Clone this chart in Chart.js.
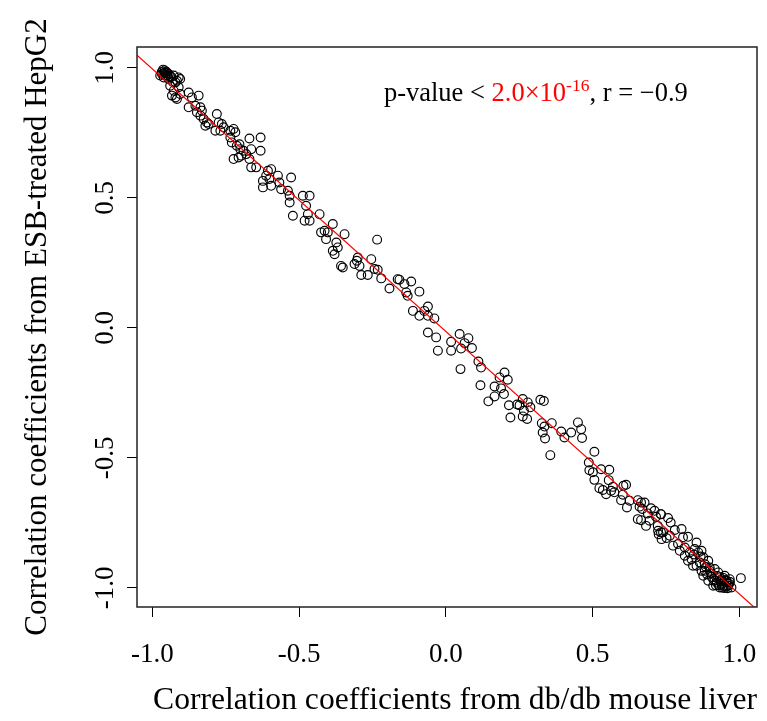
<!DOCTYPE html>
<html>
<head>
<meta charset="utf-8">
<title>Correlation coefficients scatter</title>
<script src="https://cdn.jsdelivr.net/npm/chart.js@4.4.1/dist/chart.umd.min.js"></script>
<style>
  html, body { margin: 0; padding: 0; background: #fff; }
  canvas { display: block; }
</style>
</head>
<body>
<canvas id="chart" width="767" height="721"></canvas>
<script>
'use strict';

const SERIF = "'Liberation Serif', 'Times New Roman', serif";

// [db/db mouse liver, ESB-treated HepG2] pairs
const upperCluster = [
  [-0.967, 0.976], [-0.956, 0.982], [-0.950, 0.970], [-0.961, 0.963], [-0.944, 0.976],
  [-0.952, 0.985], [-0.973, 0.970], [-0.958, 0.990], [-0.947, 0.962], [-0.962, 0.978],
  [-0.955, 0.972], [-0.940, 0.968], [-0.968, 0.984], [-0.927, 0.970], [-0.910, 0.963],
  [-0.916, 0.950], [-0.905, 0.957], [-0.921, 0.944], [-0.939, 0.931], [-0.910, 0.925],
  [-0.927, 0.912], [-0.933, 0.893], [-0.921, 0.886], [-0.916, 0.880], [-0.905, 0.899],
  [-0.876, 0.905], [-0.865, 0.886], [-0.842, 0.893], [-0.876, 0.848], [-0.853, 0.854],
  [-0.836, 0.848], [-0.831, 0.835], [-0.848, 0.829], [-0.836, 0.816], [-0.825, 0.803],
  [-0.814, 0.790], [-0.819, 0.777], [-0.808, 0.784], [-0.780, 0.822], [-0.774, 0.790],
  [-0.763, 0.784], [-0.757, 0.771], [-0.785, 0.758], [-0.768, 0.758], [-0.734, 0.758],
  [-0.723, 0.765], [-0.717, 0.752], [-0.734, 0.732], [-0.729, 0.713], [-0.712, 0.700],
  [-0.700, 0.687], [-0.723, 0.649], [-0.706, 0.655], [-0.689, 0.681],
  [-0.963, 0.993], [-0.949, 0.980], [-0.944, 0.957], [-0.935, 0.965], [-0.930, 0.945],
];

const upperMiddle = [
  [-0.669, 0.728], [-0.631, 0.732], [-0.663, 0.687], [-0.631, 0.681], [-0.703, 0.706],
  [-0.697, 0.662], [-0.680, 0.668], [-0.669, 0.649], [-0.663, 0.617], [-0.646, 0.617],
  [-0.606, 0.604], [-0.595, 0.610], [-0.612, 0.585], [-0.623, 0.565], [-0.623, 0.540],
  [-0.595, 0.546], [-0.601, 0.572], [-0.572, 0.585], [-0.567, 0.559], [-0.561, 0.533],
  [-0.527, 0.578], [-0.538, 0.527], [-0.532, 0.508], [-0.532, 0.482], [-0.487, 0.508],
  [-0.464, 0.508], [-0.476, 0.469], [-0.470, 0.437], [-0.521, 0.431], [-0.481, 0.412],
  [-0.464, 0.412], [-0.430, 0.437], [-0.425, 0.367], [-0.413, 0.373], [-0.402, 0.367],
  [-0.408, 0.341], [-0.385, 0.399], [-0.345, 0.360], [-0.373, 0.328], [-0.368, 0.309],
  [-0.385, 0.296], [-0.379, 0.283], [-0.357, 0.238], [-0.351, 0.232],
];

const middle = [
  [-0.234, 0.339], [-0.300, 0.270], [-0.311, 0.245], [-0.294, 0.238], [-0.303, 0.258],
  [-0.254, 0.264], [-0.243, 0.226], [-0.232, 0.223], [-0.288, 0.203], [-0.266, 0.203],
  [-0.220, 0.190], [-0.192, 0.151], [-0.164, 0.187], [-0.158, 0.185], [-0.141, 0.168],
  [-0.118, 0.178], [-0.135, 0.136], [-0.130, 0.123], [-0.090, 0.139], [-0.061, 0.082],
  [-0.073, 0.065], [-0.112, 0.065], [-0.090, 0.046], [-0.061, 0.046], [-0.039, 0.036],
  [-0.061, -0.018], [-0.033, -0.037], [-0.027, -0.088], [0.018, -0.054], [0.018, -0.088],
  [0.047, -0.024], [0.064, -0.059], [0.077, -0.040], [0.052, -0.080], [0.089, -0.078],
  [0.050, -0.159], [0.111, -0.130], [0.120, -0.153], [0.118, -0.221], [0.183, -0.191],
  [0.200, -0.172], [0.211, -0.200], [0.166, -0.226], [0.188, -0.233], [0.198, -0.255],
  [0.166, -0.264], [0.145, -0.283], [0.215, -0.298], [0.220, -0.345], [0.243, -0.295],
  [0.251, -0.298], [0.262, -0.274], [0.279, -0.287], [0.288, -0.306], [0.266, -0.319],
  [0.262, -0.341], [0.277, -0.351], [0.322, -0.277], [0.334, -0.282], [0.327, -0.367],
  [0.361, -0.367], [0.336, -0.380], [0.330, -0.403], [0.338, -0.426], [0.356, -0.490],
];

const lowerMiddle = [
  [0.393, -0.399], [0.404, -0.422], [0.427, -0.403], [0.450, -0.364], [0.461, -0.390],
  [0.464, -0.424], [0.506, -0.477], [0.487, -0.518], [0.489, -0.548], [0.501, -0.556],
  [0.506, -0.585], [0.529, -0.544], [0.557, -0.546], [0.555, -0.586], [0.523, -0.617],
  [0.535, -0.624], [0.546, -0.640], [0.569, -0.612], [0.574, -0.633], [0.563, -0.627],
  [0.605, -0.608], [0.614, -0.604], [0.603, -0.642], [0.597, -0.663], [0.626, -0.665],
  [0.617, -0.691], [0.654, -0.663], [0.665, -0.672], [0.677, -0.672], [0.660, -0.688],
  [0.669, -0.697], [0.699, -0.694], [0.711, -0.704], [0.688, -0.714], [0.654, -0.736],
  [0.665, -0.740], [0.682, -0.762], [0.694, -0.742], [0.716, -0.727], [0.722, -0.762],
  [0.733, -0.717], [0.725, -0.794], [0.733, -0.787],
];

const lowerCluster = [
  [0.732, -0.717], [0.757, -0.732], [0.766, -0.749], [0.723, -0.781], [0.740, -0.787],
  [0.752, -0.809], [0.735, -0.813], [0.763, -0.800], [0.780, -0.778], [0.803, -0.774],
  [0.774, -0.838], [0.791, -0.832], [0.808, -0.806], [0.825, -0.804], [0.797, -0.858],
  [0.814, -0.845], [0.814, -0.877], [0.831, -0.864], [0.837, -0.890], [0.854, -0.826],
  [0.848, -0.851], [0.860, -0.864], [0.871, -0.858], [0.877, -0.883], [0.865, -0.903],
  [0.854, -0.915], [0.882, -0.909], [0.894, -0.896], [0.899, -0.922], [0.882, -0.935],
  [0.877, -0.954], [0.905, -0.945], [0.911, -0.967], [0.916, -0.928], [0.928, -0.941],
  [0.933, -0.960], [0.922, -0.980], [0.939, -0.973], [0.950, -0.954], [0.956, -0.973],
  [0.967, -0.967], [0.945, -0.992], [0.962, -0.992], [0.973, -0.999], [0.950, -1.001],
  [0.933, -0.999], [1.005, -0.963], [0.894, -0.973], [0.911, -0.992], [0.871, -0.935],
  [0.842, -0.915], [0.825, -0.896], [0.925, -0.955], [0.940, -0.985], [0.958, -0.980],
  [0.945, -0.962], [0.930, -0.990], [0.965, -0.985], [0.915, -0.972], [0.955, -0.995],
  [0.905, -0.958], [0.890, -0.948], [0.935, -0.975], [0.950, -0.970],
  [0.920, -0.990], [0.942, -1.000], [0.960, -1.002], [0.968, -0.978], [0.900, -0.935],
  [0.886, -0.920], [0.868, -0.880], [0.845, -0.872],
];

const xTicks = [-1.0, -0.5, 0.0, 0.5, 1.0];
const yTicks = [-1.0, -0.5, 0.0, 0.5, 1.0];
const xLimits = [-1.052, 1.06];
const yLimits = [-1.074, 1.08];

// red regression line
const fitIntercept = -0.014;
const fitSlope = -1.01;

// annotation anchor (data units, baseline start)
const noteAnchor = [-0.211, 0.872];

const allPairs = [...upperCluster, ...upperMiddle, ...middle, ...lowerMiddle, ...lowerCluster];
const scatterPoints = allPairs.map(([x, y]) => ({ x, y }));
const fitLine = xLimits.map((x) => ({ x, y: fitIntercept + fitSlope * x }));

/**
 * Plot box (R style) and the p-value / r annotation
 */
const frameAndNote = {
  id: 'frameAndNote',
  afterDraw(chart) {
    const { ctx, chartArea: a, scales } = chart;
    ctx.save();
    ctx.strokeStyle = '#222';
    ctx.lineWidth = 1.5;
    ctx.strokeRect(a.left, a.top, a.right - a.left, a.bottom - a.top);

    const parts = [
      { text: 'p-value < ', color: '#000', size: 26.5, rise: 0 },
      { text: '2.0\u00d710', color: '#ff0000', size: 26.5, rise: 0 },
      { text: '-16', color: '#ff0000', size: 17.5, rise: 10 },
      { text: ', r = \u22120.9', color: '#000', size: 26.5, rise: 0 },
    ];
    let x = scales.x.getPixelForValue(noteAnchor[0]);
    const y = scales.y.getPixelForValue(noteAnchor[1]);
    ctx.textBaseline = 'alphabetic';
    ctx.textAlign = 'left';
    parts.forEach((p) => {
      ctx.font = `${p.size}px ${SERIF}`;
      ctx.fillStyle = p.color;
      ctx.fillText(p.text, x, y - p.rise);
      x += ctx.measureText(p.text).width;
    });
    ctx.restore();
  },
};

const dropScalePadding = (s) => {
  s.paddingLeft = 0;
  s.paddingRight = 0;
  s.paddingTop = 0;
  s.paddingBottom = 0;
};

new Chart(document.getElementById('chart'), {
  type: 'scatter',
  data: {
    datasets: [
      {
        type: 'line',
        data: fitLine,
        borderColor: '#ff0000',
        borderWidth: 1.2,
        pointRadius: 0,
        fill: false,
        clip: 0,
        order: 0,
      },
      {
        data: scatterPoints,
        pointStyle: 'circle',
        pointRadius: 4.4,
        borderColor: '#000',
        borderWidth: 1.15,
        backgroundColor: 'rgba(0,0,0,0)',
        order: 1,
      },
    ],
  },
  options: {
    responsive: false,
    animation: false,
    devicePixelRatio: 1,
    layout: { padding: { top: 47, right: 10, bottom: 0, left: 0 } },
    plugins: {
      legend: { display: false },
      tooltip: { enabled: false },
    },
    scales: {
      x: {
        type: 'linear',
        min: xLimits[0],
        max: xLimits[1],
        afterBuildTicks: (s) => { s.ticks = xTicks.map((v) => ({ value: v })); },
        afterFit: (s) => { s.height = 114; dropScalePadding(s); },
        border: { display: false },
        grid: { drawOnChartArea: false, drawTicks: true, tickLength: 10, color: '#000', lineWidth: 1 },
        ticks: {
          autoSkip: false,
          maxRotation: 0,
          padding: 22,
          color: '#000',
          font: { family: SERIF, size: 27 },
          callback: (v) => Number(v).toFixed(1),
        },
        title: {
          display: true,
          align: 'end',
          text: 'Correlation coefficients from db/db mouse liver',
          color: '#000',
          font: { family: SERIF, size: 31.6 },
          padding: { top: 0, bottom: 1 },
        },
      },
      y: {
        type: 'linear',
        min: yLimits[0],
        max: yLimits[1],
        afterBuildTicks: (s) => { s.ticks = yTicks.map((v) => ({ value: v })); },
        afterFit: (s) => { s.width = 137; dropScalePadding(s); },
        border: { display: false },
        grid: { drawOnChartArea: false, drawTicks: true, tickLength: 10, color: '#000', lineWidth: 1 },
        ticks: {
          minRotation: 90,
          maxRotation: 90,
          crossAlign: 'center',
          padding: 0,
          color: '#000',
          font: { family: SERIF, size: 27 },
          callback: (v) => Number(v).toFixed(1),
        },
        title: {
          display: true,
          text: 'Correlation coefficients from ESB-treated HepG2',
          color: '#000',
          font: { family: SERIF, size: 31 },
          padding: { top: 19, bottom: 0 },
        },
      },
    },
  },
  plugins: [frameAndNote],
});
</script>
</body>
</html>
